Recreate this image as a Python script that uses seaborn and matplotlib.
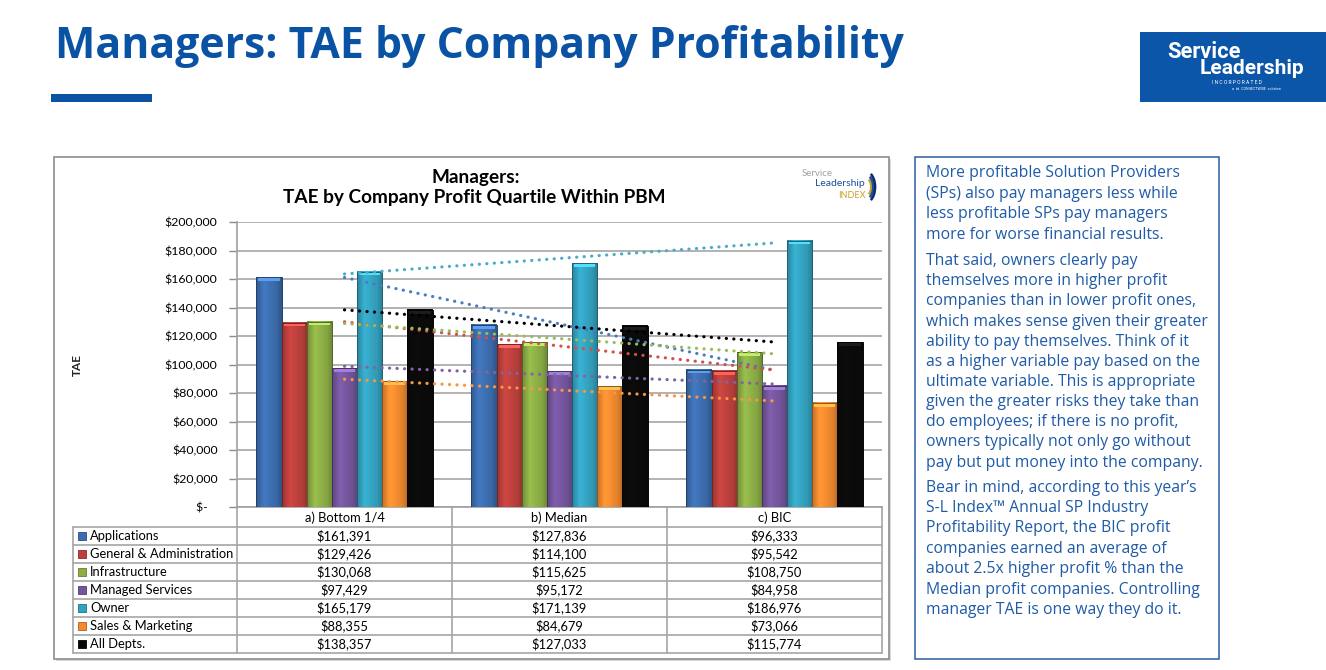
import numpy as np
import pandas as pd
import matplotlib
matplotlib.use("Agg")
import matplotlib.pyplot as plt
import seaborn as sns
from matplotlib.patches import Rectangle, Arc
from matplotlib.ticker import FuncFormatter

# ---------------- data ----------------
groups = ["a) Bottom 1/4", "b) Median", "c) BIC"]
departments = ["Applications", "General & Administration", "Infrastructure",
               "Managed Services", "Owner", "Sales & Marketing", "All Depts."]
applications = [161391, 127836, 96333]
general_admin = [129426, 114100, 95542]
infrastructure = [130068, 115625, 108750]
managed_services = [97429, 95172, 84958]
owner = [165179, 171139, 186976]
sales_marketing = [88355, 84679, 73066]
all_depts = [138357, 127033, 115774]
series = [applications, general_admin, infrastructure, managed_services,
          owner, sales_marketing, all_depts]
y_ticks = list(range(0, 200001, 20000))

bar_colors = ["#3A6DB1", "#BE3E3A", "#8CAF43", "#74549E", "#31A3C2", "#F48A2C", "#060606"]
trend_colors = ["#4A7CC4", "#D0504C", "#9BBB59", "#8064A2", "#4BACC6", "#F79646", "#000000"]

title_text = "Managers: TAE by Company Profitability"
chart_title = ["Managers:", "TAE by Company Profit Quartile Within PBM"]
paragraphs = [
    ["More profitable Solution Providers", "(SPs) also pay managers less while",
     "less profitable SPs pay managers", "more for worse financial results."],
    ["That said, owners clearly pay", "themselves more in higher profit",
     "companies than in lower profit ones,", "which makes sense given their greater",
     "ability to pay themselves. Think of it", "as a higher variable pay based on the",
     "ultimate variable. This is appropriate", "given the greater risks they take than",
     "do employees; if there is no profit,", "owners typically not only go without",
     "pay but put money into the company."],
    ["Bear in mind, according to this year\u2019s", "S-L Index\u2122 Annual SP Industry",
     "Profitability Report, the BIC profit", "companies earned an average of",
     "about 2.5x higher profit % than the", "Median profit companies. Controlling",
     "manager TAE is one way they do it."],
]

df = pd.DataFrame([(g, d, s[i]) for d, s in zip(departments, series)
                   for i, g in enumerate(groups)], columns=["group", "dept", "value"])

# ---------------- figure ----------------
W, H = 1326, 670
sns.set_theme(style="white")
plt.rcParams["font.family"] = ["Lato", "DejaVu Sans"]
fig = plt.figure(figsize=(W / 100, H / 100), dpi=100)
fig.patch.set_facecolor("white")
renderer = fig.canvas.get_renderer()

def size_for(s, target_w, **kw):
    t = fig.text(0, 0, s, fontsize=10, **kw)
    w = t.get_window_extent(renderer).width
    t.remove()
    return 10 * target_w / w

bg = fig.add_axes([0, 0, 1, 1], zorder=0)
bg.set_xlim(0, W)
bg.set_ylim(H, 0)
bg.axis("off")

BLUE = "#0A53A4"

# slide title
fs = size_for(title_text, 850, family="Open Sans", weight="bold")
bg.text(55, 58, title_text, fontsize=fs, family="Open Sans", weight="bold",
        color=BLUE, va="baseline", ha="left")
bg.add_patch(Rectangle((51, 94), 101, 7.5, color=BLUE, lw=0))

# big logo
bg.add_patch(Rectangle((1140, 32), 186, 70, color="#0B56A8", lw=0))
fs_logo = size_for("Leadership", 104, family="Roboto", weight="bold")
bg.text(1167, 52, "Service", fontsize=fs_logo * 1.05, family="Roboto", weight="bold",
        color="white", va="center", ha="left")
bg.text(1200, 69, "Leadership", fontsize=fs_logo, family="Roboto", weight="bold",
        color="white", va="center", ha="left")
bg.text(1212, 82, "I N C O R P O R A T E D", fontsize=3.6, family="Roboto",
        color="white", va="center", ha="left")
bg.text(1232, 89, "a  \u22c8  CONNECTWISE  solution", fontsize=2.6,
        family=["Roboto", "DejaVu Sans"], color="white", va="center", ha="left")

# chart panel
bg.add_patch(Rectangle((56, 159), 835, 502, facecolor="#D9D9D9", edgecolor="none"))
bg.add_patch(Rectangle((54, 157), 835, 502, facecolor="white", edgecolor="#8C8C8C", lw=1.2))

# chart title
fs_ct = size_for(chart_title[1], 382, weight="bold")
bg.text(476, 177, chart_title[0], fontsize=fs_ct, weight="bold", ha="center", va="center", color="black")
bg.text(474, 198, chart_title[1], fontsize=fs_ct, weight="bold", ha="center", va="center", color="black")

# small index logo
bg.text(802, 174, "Service", fontsize=7, color="#A0A0A0", ha="left", va="center")
bg.text(815, 184, "Leadership", fontsize=7.5, color="#1F4E9C", ha="left", va="center")
bg.text(838, 195, "INDEX", fontsize=6.5, color="#C9A227", ha="left", va="center")
for r, c in [(8, "#C9A227"), (11, "#1F4E9C"), (14, "#0B2E6B")]:
    bg.add_patch(Arc((866, 187), r * 1.3, r * 2.2, theta1=-70, theta2=70, color=c, lw=1.8))

# TAE label
bg.text(77, 365, "TAE", fontsize=8.5, weight="bold", rotation=90, ha="center", va="center")

# ---------------- bar chart ----------------
x0, x1, ytop, ybot = 237, 882, 222, 507
ax = fig.add_axes([x0 / W, 1 - ybot / H, (x1 - x0) / W, (ybot - ytop) / H], zorder=2)
ax.patch.set_alpha(0)
sns.barplot(data=df, x="group", y="value", hue="dept", hue_order=departments,
            order=groups, palette=dict(zip(departments, bar_colors)), saturation=1,
            width=0.82, ax=ax, legend=False, zorder=3)

ax.set_xlim(-0.5, len(groups) - 0.5)
ax.set_ylim(0, 200000)

# bevel / gradient shading on each bar
profile = np.concatenate([np.linspace(0.78, 1.06, 10), np.linspace(1.06, 0.92, 14),
                          np.linspace(0.92, 0.74, 8)])
for p in list(ax.patches):
    fc = np.array(matplotlib.colors.to_rgb(p.get_facecolor()))
    xb, wb, hb = p.get_x(), p.get_width(), p.get_height()
    img = np.clip(fc[None, None, :] * profile[None, :, None] + 0.02, 0, 1)
    ax.imshow(img, extent=(xb, xb + wb, 0, hb), aspect="auto", zorder=3.2,
              interpolation="bilinear")
    cap = 2600
    light = np.clip(fc * 1.25 + 0.08, 0, 1)
    ax.add_patch(Rectangle((xb + wb * 0.08, hb - cap), wb * 0.84, cap,
                           facecolor=light, edgecolor="none", zorder=3.3))
    p.set_facecolor("none")
    p.set_edgecolor(tuple(fc * 0.6))
    p.set_linewidth(0.7)
    p.set_zorder(3.4)

xs = np.arange(len(groups))
for s, c in zip(series, trend_colors):
    k, b = np.polyfit(xs, s, 1)
    ax.plot(xs, k * xs + b, color=c, lw=2.3, linestyle=(0, (0.05, 2.3)),
            dash_capstyle="round", zorder=5)

ax.set_xlim(-0.5, len(groups) - 0.5)
ax.set_ylim(0, 200000)
ax.set_yticks(y_ticks)
ax.yaxis.set_major_formatter(FuncFormatter(lambda v, p: "$-   " if v == 0 else f"${v:,.0f}"))
ax.tick_params(axis="y", labelsize=9, length=6, color="#8C8C8C", width=1,
               direction="out", pad=8, left=True, labelcolor="black")
ax.tick_params(axis="x", bottom=False, labelbottom=False)
ax.set_xlabel("")
ax.set_ylabel("")
ax.grid(axis="y", color="#A6A6A6", lw=1.2, zorder=0)
ax.set_axisbelow(True)
for side in ["top", "right"]:
    ax.spines[side].set_visible(False)
for side in ["left", "bottom"]:
    ax.spines[side].set_color("#A0A0A0")
    ax.spines[side].set_linewidth(1.2)

# fit tick label size so "$200,000" is ~53 px wide
fig.canvas.draw()
lab = [t for t in ax.get_yticklabels() if t.get_text().startswith("$200")][0]
wl = lab.get_window_extent(renderer).width
ax.tick_params(axis="y", labelsize=9 * 53 / wl)

# ---------------- data table ----------------
LC = "#A6A6A6"
row_top = 526.7
row_h = 18.05
n = len(departments)
tbl_bot = row_top + n * row_h
gw = (x1 - x0) / len(groups)
fs_tbl = size_for("General & Administration", 144)
for i, g in enumerate(groups):
    bg.text(x0 + gw * (i + 0.5), (ybot + row_top) / 2 + 0.5, g, fontsize=fs_tbl,
            ha="center", va="center", color="black")
for j in range(len(groups) + 1):
    bg.plot([x0 + gw * j] * 2, [ybot, tbl_bot], color=LC, lw=1.2)
bg.plot([73, 73], [row_top, tbl_bot], color=LC, lw=1.2)
for r in range(n + 1):
    bg.plot([73, x1], [row_top + r * row_h] * 2, color=LC, lw=1.2)
for r, (d, s, c) in enumerate(zip(departments, series, bar_colors)):
    yc = row_top + (r + 0.5) * row_h
    bg.add_patch(Rectangle((78, yc - 4), 8, 8, facecolor=c, edgecolor=tuple(
        np.array(matplotlib.colors.to_rgb(c)) * 0.7), lw=0.6))
    bg.text(90, yc, d, fontsize=fs_tbl, ha="left", va="center", color="black")
    for i, v in enumerate(s):
        bg.text(x0 + gw * (i + 0.5), yc, f"${v:,.0f}", fontsize=fs_tbl,
                ha="center", va="center", color="black")

# ---------------- text box ----------------
bg.add_patch(Rectangle((915, 157), 304, 502, facecolor="white", edgecolor="#2B5CA2", lw=1.1))
TXT = "#1F5BA8"
fs_box = size_for("which makes sense given their greater", 281, family="Open Sans")
line_y = [[171.7, 192.5, 213, 233.3],
          [259.5, 279.5, 299.5, 320, 340, 360, 380, 400, 420.5, 441, 461.5],
          [487, 507, 527, 547.5, 567.5, 588, 608]]
for para, ys in zip(paragraphs, line_y):
    for line, yy in zip(para, ys):
        bg.text(926, yy + 1.5, line, fontsize=fs_box, family="Open Sans", color=TXT,
                ha="left", va="center")

fig.savefig("out.png", dpi=100, facecolor="white")
